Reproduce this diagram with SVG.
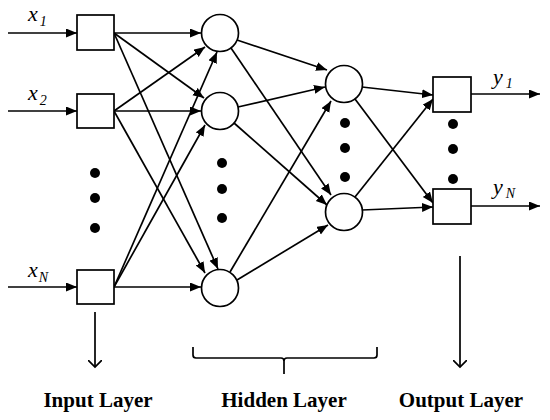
<svg xmlns="http://www.w3.org/2000/svg" width="550" height="420" viewBox="0 0 550 420">
<style>
.n{fill:#fff;stroke:#000;stroke-width:1.7}
.c line,.c path{stroke:#000;stroke-width:1.7;fill:none}
.a{marker-end:url(#ah)}
.o{marker-end:url(#oh)}
.d{fill:#000}
.v{font-family:'Liberation Serif','Times New Roman',serif;font-style:italic;font-size:22px;fill:#000}
.s{font-size:14px}
.lb{font-family:'Liberation Serif','Times New Roman',serif;font-weight:bold;font-size:21px;fill:#000;text-anchor:middle}
</style>
<defs>
<marker id="ah" markerUnits="userSpaceOnUse" markerWidth="12" markerHeight="10" refX="11" refY="4.5" orient="auto"><path d="M0,0 L11,4.5 L0,9 z" fill="#000"/></marker>
<marker id="oh" markerUnits="userSpaceOnUse" markerWidth="14" markerHeight="14" refX="7" refY="7" orient="auto"><path d="M0,0 L7,7 L0,14" fill="none" stroke="#000" stroke-width="1.7"/></marker>
</defs>
<rect width="550" height="420" fill="#fff"/>
<g class="c" id="connectors">
<line class="a" x1="8" y1="33" x2="77" y2="33"/>
<line class="a" x1="8" y1="111" x2="77" y2="111"/>
<line class="a" x1="8" y1="287" x2="77" y2="287"/>
<line class="a" x1="114" y1="33" x2="201" y2="33"/>
<line class="a" x1="114" y1="33" x2="204" y2="98"/>
<line class="a" x1="114" y1="33" x2="218" y2="269"/>
<line class="a" x1="114" y1="111" x2="205" y2="47"/>
<line class="a" x1="114" y1="111" x2="201" y2="111"/>
<line class="a" x1="114" y1="111" x2="205" y2="273"/>
<line class="a" x1="114" y1="287" x2="217" y2="52"/>
<line class="a" x1="114" y1="287" x2="205" y2="125"/>
<line class="a" x1="114" y1="287" x2="201" y2="287"/>
<line class="a" x1="237" y1="40" x2="327" y2="70"/>
<line class="a" x1="231" y1="48" x2="331" y2="195"/>
<line class="a" x1="238" y1="107" x2="325" y2="87"/>
<line class="a" x1="234" y1="123" x2="327" y2="205"/>
<line class="a" x1="230" y1="272" x2="331" y2="101"/>
<line class="a" x1="237" y1="280" x2="328" y2="225"/>
<line class="a" x1="362" y1="87" x2="433" y2="95"/>
<line class="a" x1="355" y1="99" x2="433" y2="203"/>
<line class="a" x1="355" y1="197" x2="433" y2="99"/>
<line class="a" x1="362" y1="210" x2="433" y2="207"/>
<line class="a" x1="471" y1="94" x2="540" y2="94"/>
<line class="a" x1="471" y1="206" x2="540" y2="206"/>
<line class="o" x1="95" y1="312" x2="95" y2="367"/>
<line class="o" x1="460" y1="256" x2="460" y2="367"/>
<path d="M193,347 L193,355 Q193,358 196,358 L281,358 Q284,358 284,361 L284,374 M284,361 Q284,358 287,358 L374,358 Q377,358 377,355 L377,347"/>
</g>
<g id="in1"><rect class="n" x="77" y="15" width="37" height="35"/></g>
<g id="in2"><rect class="n" x="77" y="94" width="37" height="34"/></g>
<g id="inN"><rect class="n" x="77" y="270" width="37" height="34"/></g>
<g id="h1a"><circle class="n" cx="220" cy="33" r="18.5"/></g>
<g id="h1b"><circle class="n" cx="220" cy="111" r="18.5"/></g>
<g id="h1c"><circle class="n" cx="220" cy="288" r="18.5"/></g>
<g id="h2a"><circle class="n" cx="344" cy="84" r="18.5"/></g>
<g id="h2b"><circle class="n" cx="344" cy="212" r="18.5"/></g>
<g id="out1"><rect class="n" x="433" y="77" width="38" height="35"/></g>
<g id="outN"><rect class="n" x="433" y="189" width="38" height="35"/></g>
<g id="dots">
<circle class="d" cx="95" cy="173" r="5"/><circle class="d" cx="95" cy="198" r="5"/><circle class="d" cx="95" cy="228" r="5"/>
<circle class="d" cx="222" cy="163" r="5"/><circle class="d" cx="222" cy="189" r="5"/><circle class="d" cx="222" cy="218" r="5"/>
<circle class="d" cx="345" cy="123" r="5"/><circle class="d" cx="345" cy="148" r="5"/><circle class="d" cx="345" cy="177" r="5"/>
<circle class="d" cx="453" cy="124" r="5"/><circle class="d" cx="453" cy="149" r="5"/><circle class="d" cx="453" cy="179" r="5"/>
</g>
<g id="labels">
<text class="v" x="28" y="21">x<tspan class="s" dx="2" dy="5">1</tspan></text>
<text class="v" x="28" y="100">x<tspan class="s" dx="2" dy="5">2</tspan></text>
<text class="v" x="28" y="277">x<tspan class="s" dx="1" dy="5">N</tspan></text>
<text class="v" x="493" y="84">y<tspan class="s" dx="3" dy="4">1</tspan></text>
<text class="v" x="493" y="194">y<tspan class="s" dx="3" dy="4">N</tspan></text>
<text class="lb" x="98" y="407">Input Layer</text>
<text class="lb" x="284" y="407">Hidden Layer</text>
<text class="lb" x="461" y="407">Output Layer</text>
</g>
</svg>
